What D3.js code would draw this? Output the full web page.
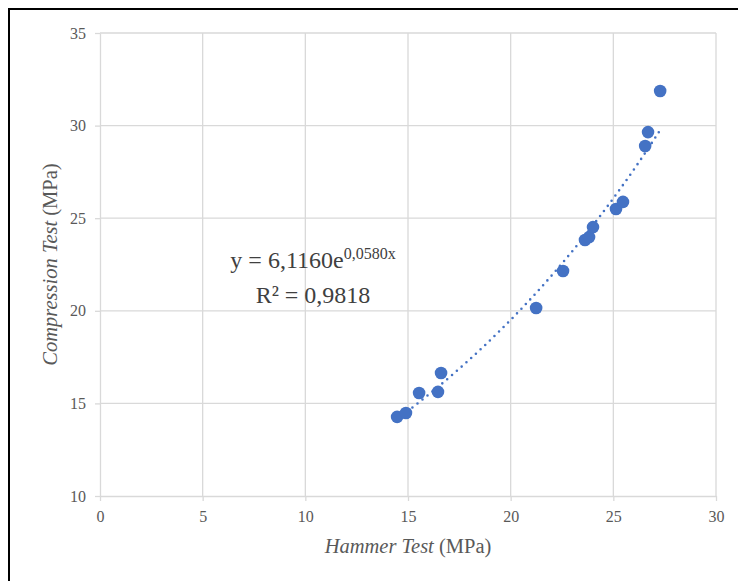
<!DOCTYPE html>
<meta charset="utf-8">
<style>
body { margin: 0; background: #fff; }
svg text { font-family: "Liberation Serif", "Times New Roman", "DejaVu Serif", serif; fill: #595959; }
.grid line { stroke: #d9d9d9; stroke-width: 1.3px; }
.axis path, .axis line { stroke: #d9d9d9; stroke-width: 1.3px; }
.axis text { font-size: 16px; fill: #595959; }
.trend { fill: none; stroke: #4472c4; stroke-width: 2.6px; stroke-linecap: round; stroke-dasharray: 0 6.4; }
</style>
<svg width="738" height="581"></svg>
<script src="https://d3js.org/d3.v7.min.js"></script>
<script>

// hammer test (x) vs compression test (y), MPa
var hammer      = [14.47, 14.90, 15.54, 16.46, 16.61, 21.24, 22.55, 23.62, 23.82, 24.01, 25.13, 25.47, 26.55, 26.69, 27.28];
var compression = [14.27, 14.48, 15.56, 15.62, 16.64, 20.15, 22.15, 23.82, 23.98, 24.52, 25.50, 25.88, 28.90, 29.65, 31.87];

var xTicks = [0, 5, 10, 15, 20, 25, 30],
    yTicks = [10, 15, 20, 25, 30, 35];

// exponential trendline shown on the chart
var trendA = 6.1160, trendB = 0.0580;
var eqMain = "y = 6,1160e", eqExp = "0,0580x", r2Text = "R² = 0,9818";

var serif = "'Liberation Serif', 'Times New Roman', 'DejaVu Serif', serif";

var svg = d3.select("svg"),
    margin = {top: 33, right: 22, bottom: 85, left: 100},
    width = 716 - margin.left,
    height = 496 - margin.top,
    g = svg.append("g").attr("transform", "translate(" + margin.left + "," + margin.top + ")");

// outer frame
svg.append("rect")
    .attr("x", 9).attr("y", 9)
    .attr("width", 760).attr("height", 600)
    .attr("fill", "none")
    .attr("stroke", "#000")
    .attr("stroke-width", 2);

var x = d3.scaleLinear().domain([0, 30]).range([0, width]),
    y = d3.scaleLinear().domain([10, 35]).range([height, 0]);

// gridlines
g.append("g").attr("class", "grid")
  .selectAll("line").data(xTicks.slice(1)).enter().append("line")
    .attr("x1", function(d) { return x(d); }).attr("x2", function(d) { return x(d); })
    .attr("y1", 0).attr("y2", height);

g.append("g").attr("class", "grid")
  .selectAll("line").data(yTicks.slice(1)).enter().append("line")
    .attr("x1", 0).attr("x2", width)
    .attr("y1", function(d) { return y(d); }).attr("y2", function(d) { return y(d); });

g.append("g")
    .attr("class", "axis axis--x")
    .attr("transform", "translate(0," + height + ")")
    .call(d3.axisBottom(x).tickValues(xTicks).tickSize(5).tickSizeOuter(0).tickPadding(10))
    .attr("font-family", serif)
    .call(function(a) { a.selectAll("text").attr("dy", "0.71em"); });

g.append("g")
    .attr("class", "axis axis--y")
    .call(d3.axisLeft(y).tickValues(yTicks).tickSize(5).tickSizeOuter(0).tickPadding(9))
    .attr("font-family", serif);

// trendline
var trendData = d3.range(d3.min(hammer), d3.max(hammer) + 0.001, 0.1).map(function(v) {
  return [v, trendA * Math.exp(trendB * v)];
});
g.append("path")
    .datum(trendData)
    .attr("class", "trend")
    .attr("d", d3.line()
      .x(function(d) { return x(d[0]); })
      .y(function(d) { return y(d[1]); }));

// points
g.selectAll(".dot")
    .data(hammer.map(function(h, i) { return [h, compression[i]]; }))
  .enter().append("circle")
    .attr("class", "dot")
    .attr("cx", function(d) { return x(d[0]); })
    .attr("cy", function(d) { return y(d[1]); })
    .attr("r", 6.3)
    .attr("fill", "#4472c4");

// equation label
var eq = svg.append("text")
    .attr("x", 313).attr("y", 268)
    .attr("text-anchor", "middle")
    .style("font-size", "24px")
    .style("fill", "#404040");
eq.append("tspan").text(eqMain);
eq.append("tspan").attr("dy", -9).style("font-size", "16px").text(eqExp);

svg.append("text")
    .attr("x", 313).attr("y", 303)
    .attr("text-anchor", "middle")
    .style("font-size", "24px")
    .style("fill", "#404040")
    .text(r2Text);

// axis titles
var xt = svg.append("text")
    .attr("x", margin.left + width / 2).attr("y", 553)
    .attr("text-anchor", "middle")
    .style("font-size", "20.5px");
xt.append("tspan").style("font-style", "italic").text("Hammer Test");
xt.append("tspan").text(" (MPa)");

var yt = svg.append("text")
    .attr("transform", "translate(57," + (margin.top + height / 2) + ") rotate(-90)")
    .attr("text-anchor", "middle")
    .style("font-size", "20.5px");
yt.append("tspan").style("font-style", "italic").text("Compression Test");
yt.append("tspan").text(" (MPa)");

</script>
